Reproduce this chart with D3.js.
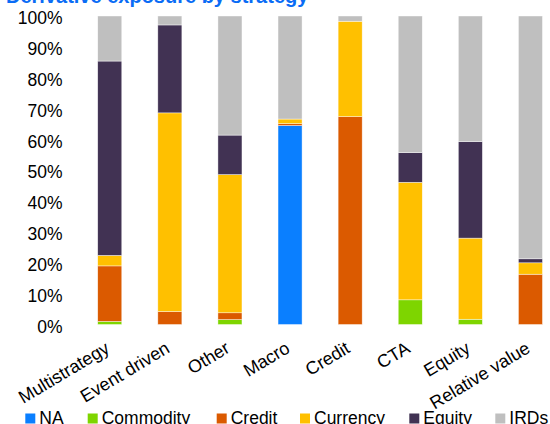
<!DOCTYPE html>
<html><head><meta charset="utf-8">
<script src="https://cdn.jsdelivr.net/npm/d3@7"></script>
<style>
html,body{margin:0;padding:0;background:#fff;overflow:hidden;}
text{font-family:"Liberation Sans",Arial,sans-serif;}
</style></head>
<body>
<svg id="chart" width="550" height="424"></svg>
<script>
const title = "Derivative exposure by strategy";
const categories = ["Multistrategy","Event driven","Other","Macro","Credit","CTA","Equity","Relative value"];
const seriesNames = ["NA","Commodity","Credit","Currency","Equity","IRDs"];
const NA        = [0,    0,    0,    64.5, 0,    0,    0,    0];
const Commodity = [1.0,  0,    1.6,  0,    0,    8.0,  1.7,  0];
const Credit    = [18.0, 4.2,  2.2,  0.6,  67.4, 0,    0,    16.3];
const Currency  = [3.4,  64.4, 44.8, 1.5,  30.9, 38.1, 26.3, 3.7];
const Equity    = [63.0, 28.5, 12.8, 0,    0,    9.6,  31.3, 1.3];
const IRDs      = [14.6, 2.9,  38.6, 33.4, 1.7,  44.3, 40.7, 78.7];
const tickValues = [0,10,20,30,40,50,60,70,80,90,100];
const tickLabels = ["0%","10%","20%","30%","40%","50%","60%","70%","80%","90%","100%"];

const colors = ["#0A7FFF","#7ED500","#DB5A00","#FFC000","#413253","#BFBFBF"];
const seriesData = [NA, Commodity, Credit, Currency, Equity, IRDs];

const rows = categories.map((c,i)=>{
  const r = {cat:c};
  seriesNames.forEach((s,j)=> r[s] = seriesData[j][i]);
  return r;
});
const stacked = d3.stack().keys(seriesNames)(rows);

const svg = d3.select("#chart");
const x = d3.scaleBand().domain(categories).range([79.7, 560.5]).paddingInner(0.6).paddingOuter(0.3);
const y = d3.scaleLinear().domain([0,100]).range([324.5, 16]);
const color = d3.scaleOrdinal().domain(seriesNames).range(colors);

// title (cut off at top)
svg.append("text").attr("x",6).attr("y",3)
  .attr("font-size",20).attr("font-weight","bold").attr("fill","#0A6CF5")
  .text(title);

// bars
svg.append("g").selectAll("g").data(stacked).join("g")
  .attr("fill", d=>color(d.key))
  .selectAll("rect").data(d=>d.filter(p=>p[1]-p[0]>0)).join("rect")
  .attr("x", d=>x(d.data.cat))
  .attr("width", x.bandwidth())
  .attr("y", d=>y(d[1]))
  .attr("height", d=>y(d[0])-y(d[1]))
  .attr("stroke","#fff").attr("stroke-width",0.6).attr("stroke-opacity",0.7);

// y axis
const yAxis = d3.axisLeft(y).tickValues(tickValues).tickFormat((d,i)=>tickLabels[i]).tickSize(0).tickPadding(0);
const gy = svg.append("g").attr("transform","translate(62.5,0)").call(yAxis);
gy.select(".domain").remove();
gy.selectAll("text").attr("font-size",17.5).attr("fill","#000")
  .attr("font-family","'Liberation Sans',Arial,sans-serif").attr("dy",null).attr("y",7.6);

// x axis labels
const xAxis = d3.axisBottom(x).tickSize(0).tickPadding(0);
const gx = svg.append("g").attr("transform","translate(0,324.5)").call(xAxis);
gx.select(".domain").remove();
gx.selectAll("text").attr("font-size",18).attr("fill","#000")
  .attr("font-family","'Liberation Sans',Arial,sans-serif")
  .attr("text-anchor","end").attr("dy",null).attr("y",null)
  .attr("transform","translate(1,27) rotate(-31)");

// legend
const legendX = [39.3, 101.7, 230.7, 314, 423.3, 509.3];
const lg = svg.append("g").selectAll("g").data(seriesNames).join("g");
lg.append("rect").attr("x",(d,i)=>legendX[i]-14).attr("y",413.5).attr("width",10).attr("height",10)
  .attr("fill",d=>color(d));
lg.append("text").attr("x",(d,i)=>legendX[i]).attr("y",423.5).attr("font-size",17.5).attr("fill","#000").text(d=>d);
</script>
</body></html>
